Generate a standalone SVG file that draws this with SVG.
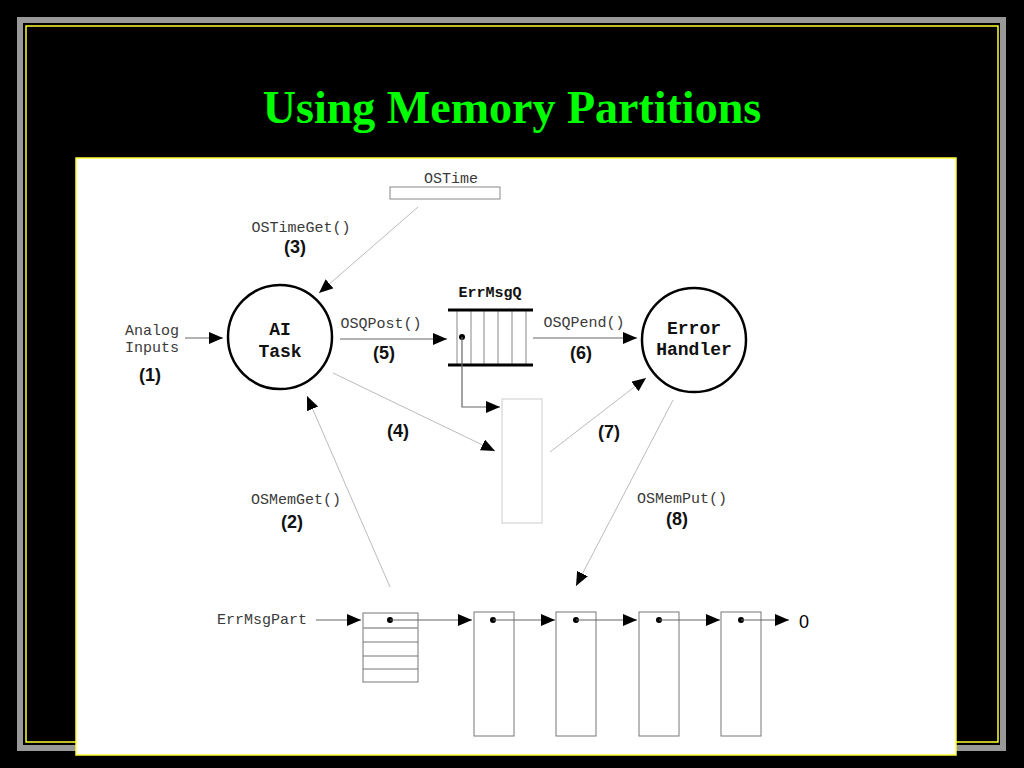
<svg xmlns="http://www.w3.org/2000/svg" width="1024" height="768" viewBox="0 0 1024 768">
<style>
.mono{font-family:"Liberation Mono","DejaVu Sans Mono",monospace;font-size:15px;fill:#3a3a3a}
.bmono{font-family:"Liberation Mono","DejaVu Sans Mono",monospace;font-weight:bold;fill:#111}
.num{font-family:"Liberation Sans",Arial,sans-serif;font-weight:bold;font-size:18px;fill:#111}
.dark{stroke:#666;stroke-width:1.2;fill:none}
.light{stroke:#bbb;stroke-width:1;fill:none}
.circ{stroke:#000;stroke-width:2.5;fill:#fff}
.box{stroke:#777;stroke-width:1;fill:#fff}
</style>
<defs>
<marker id="ah" markerUnits="userSpaceOnUse" markerWidth="15" markerHeight="13" refX="14" refY="6" orient="auto">
<path d="M0,0 L14,6 L0,12 z" fill="#000"/>
</marker>
</defs>
<rect x="0" y="0" width="1024" height="768" fill="#000"/>
<rect x="20" y="20" width="983" height="728" fill="none" stroke="#999" stroke-width="6"/>
<rect x="26" y="26" width="972" height="716" fill="none" stroke="#ffff33" stroke-width="1.5"/>
<text x="512" y="123" text-anchor="middle" font-family="Liberation Serif,Times New Roman,serif" font-weight="bold" font-size="46" fill="#00ff00">Using Memory Partitions</text>
<rect x="76" y="158" width="880" height="597" fill="#fff" stroke="#ffff33" stroke-width="1.5"/>

<g id="ostime">
<text class="mono" x="451" y="183" text-anchor="middle">OSTime</text>
<rect x="390" y="187" width="110" height="12" fill="#fff" stroke="#888" stroke-width="1"/>
</g>

<g id="analog">
<text class="mono" x="152" y="335" text-anchor="middle">Analog</text>
<text class="mono" x="152" y="352" text-anchor="middle">Inputs</text>
</g>

<g id="aitask">
<circle class="circ" cx="280" cy="337" r="52"/>
<text class="bmono" x="280" y="335" text-anchor="middle" font-size="18">AI</text>
<text class="bmono" x="280" y="357" text-anchor="middle" font-size="18">Task</text>
</g>

<g id="errmsgq">
<text class="bmono" x="490" y="297" text-anchor="middle" font-size="15">ErrMsgQ</text>
<g stroke="#888" stroke-width="1">
<line x1="457" y1="310" x2="457" y2="365"/>
<line x1="471" y1="310" x2="471" y2="365"/>
<line x1="484" y1="310" x2="484" y2="365"/>
<line x1="498" y1="310" x2="498" y2="365"/>
<line x1="512" y1="310" x2="512" y2="365"/>
<line x1="526" y1="310" x2="526" y2="365"/>
</g>
<line x1="448" y1="310" x2="533" y2="310" stroke="#000" stroke-width="3"/>
<line x1="448" y1="365" x2="533" y2="365" stroke="#000" stroke-width="3"/>
<circle cx="462" cy="337" r="3" fill="#000"/>
</g>

<g id="errorhandler">
<circle class="circ" cx="694" cy="340" r="52"/>
<text class="bmono" x="694" y="334" text-anchor="middle" font-size="18">Error</text>
<text class="bmono" x="694" y="355" text-anchor="middle" font-size="18">Handler</text>
</g>

<g id="msgblock">
<rect x="502" y="399" width="40" height="124" fill="#fff" stroke="#ccc" stroke-width="1"/>
</g>

<g id="errmsgpart">
<text class="mono" x="307" y="624" text-anchor="end">ErrMsgPart</text>
</g>

<g id="partition">
<rect class="box" x="363" y="613" width="55" height="69"/>
<line x1="363" y1="628" x2="418" y2="628" stroke="#999" stroke-width="1.5"/>
<line x1="363" y1="642" x2="418" y2="642" stroke="#777" stroke-width="1"/>
<line x1="363" y1="656" x2="418" y2="656" stroke="#777" stroke-width="1"/>
<line x1="363" y1="669" x2="418" y2="669" stroke="#777" stroke-width="1"/>
<circle cx="390" cy="620" r="3" fill="#000"/>
</g>
<g id="block1">
<rect class="box" x="474" y="612" width="40" height="124"/>
<circle cx="493" cy="620" r="3" fill="#000"/>
</g>
<g id="block2">
<rect class="box" x="556" y="612" width="40" height="124"/>
<circle cx="576" cy="620" r="3" fill="#000"/>
</g>
<g id="block3">
<rect class="box" x="639" y="612" width="40" height="124"/>
<circle cx="659" cy="620" r="3" fill="#000"/>
</g>
<g id="block4">
<rect class="box" x="721" y="612" width="40" height="124"/>
<circle cx="741" cy="620" r="3" fill="#000"/>
</g>
<g id="nullend">
<text x="804" y="628" text-anchor="middle" font-family="Liberation Sans,Arial,sans-serif" font-size="18" fill="#000">0</text>
</g>

<g id="connectors">
<line class="dark" x1="185" y1="338" x2="223" y2="338" marker-end="url(#ah)"/>
<line class="light" x1="418" y1="207" x2="319" y2="293" marker-end="url(#ah)"/>
<line class="dark" x1="340" y1="339" x2="447" y2="339" marker-end="url(#ah)"/>
<line class="dark" x1="533" y1="338" x2="637" y2="338" marker-end="url(#ah)"/>
<polyline class="dark" points="462,337 462,407 500,407" marker-end="url(#ah)"/>
<line class="light" x1="333" y1="373" x2="495" y2="451" marker-end="url(#ah)"/>
<line class="light" x1="550" y1="452" x2="646" y2="378" marker-end="url(#ah)"/>
<line class="light" x1="390" y1="587" x2="307" y2="396" marker-end="url(#ah)"/>
<line class="light" x1="673" y1="400" x2="576" y2="586" marker-end="url(#ah)"/>
<line class="dark" x1="316" y1="620" x2="361" y2="620" marker-end="url(#ah)"/>
<line class="dark" x1="390" y1="620" x2="472" y2="620" marker-end="url(#ah)"/>
<line class="dark" x1="493" y1="620" x2="555" y2="620" marker-end="url(#ah)"/>
<line class="dark" x1="576" y1="620" x2="637" y2="620" marker-end="url(#ah)"/>
<line class="dark" x1="659" y1="620" x2="720" y2="620" marker-end="url(#ah)"/>
<line class="dark" x1="741" y1="620" x2="789" y2="620" marker-end="url(#ah)"/>
</g>

<g id="labels">
<text class="mono" x="301" y="232" text-anchor="middle">OSTimeGet()</text>
<text class="num" x="295" y="253" text-anchor="middle">(3)</text>
<text class="num" x="150" y="381" text-anchor="middle">(1)</text>
<text class="mono" x="381" y="328" text-anchor="middle">OSQPost()</text>
<text class="num" x="384" y="359" text-anchor="middle">(5)</text>
<text class="mono" x="584" y="327" text-anchor="middle">OSQPend()</text>
<text class="num" x="581" y="359" text-anchor="middle">(6)</text>
<text class="num" x="398" y="437" text-anchor="middle">(4)</text>
<text class="num" x="609" y="438" text-anchor="middle">(7)</text>
<text class="mono" x="296" y="504" text-anchor="middle">OSMemGet()</text>
<text class="num" x="292" y="528" text-anchor="middle">(2)</text>
<text class="mono" x="682" y="503" text-anchor="middle">OSMemPut()</text>
<text class="num" x="677" y="525" text-anchor="middle">(8)</text>
</g>
</svg>
